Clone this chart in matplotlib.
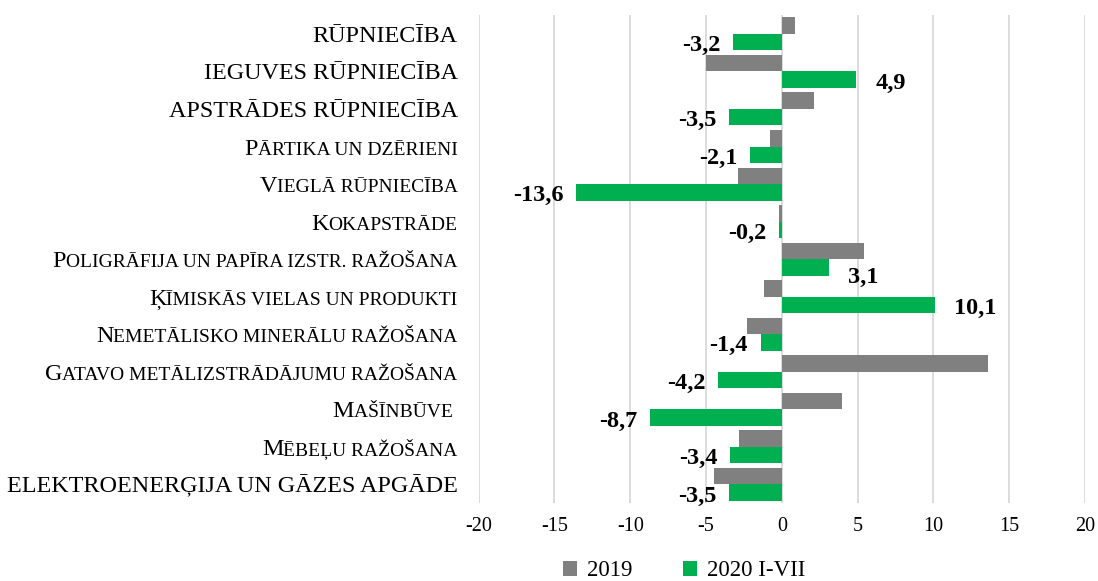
import numpy as np
import matplotlib
matplotlib.use('Agg')
import matplotlib.pyplot as plt

categories = ['RŪPNIECĪBA', 'IEGUVES RŪPNIECĪBA', 'APSTRĀDES RŪPNIECĪBA',
              'Pārtika un dzērieni', 'Vieglā rūpniecība', 'Kokapstrāde',
              'Poligrāfija un papīra izstr. ražošana', 'Ķīmiskās vielas un produkti',
              'Nemetālisko minerālu ražošana', 'Gatavo metālizstrādājumu ražošana',
              'Mašīnbūve ', 'Mēbeļu ražošana', 'ELEKTROENERĢIJA UN GĀZES APGĀDE']
vals_2019 = [0.9, -5.0, 2.1, -0.8, -2.9, -0.2, 5.4, -1.2, -2.3, 13.6, 4.0, -2.8, -4.5]
vals_2020 = [-3.2, 4.9, -3.5, -2.1, -13.6, -0.2, 3.1, 10.1, -1.4, -4.2, -8.7, -3.4, -3.5]
xticks = [-20, -15, -10, -5, 0, 5, 10, 15, 20]

plt.rcParams['font.family'] = ['Liberation Serif', 'DejaVu Serif']

W, H = 1098, 581
fig = plt.figure(figsize=(W / 100, H / 100), dpi=100)
ax = fig.add_axes([0.436, 0.134, 0.552, 0.840])

y = np.arange(len(categories))
h = 0.44
ax.barh(y - h / 2, vals_2019, height=h, color='#808080', label='2019', zorder=3)
ax.barh(y + h / 2, vals_2020, height=h, color='#00b050', label='2020 I-VII', zorder=3)

# data labels (2020), Excel nudged the 3,1 label down a bit
for i, (yi, v) in enumerate(zip(y, vals_2020)):
    lbl = f'{v:.1f}'.replace('.', ',')
    dy = -7 if i == 6 else -2.5
    ax.annotate(lbl, (v, yi + h / 2), xytext=(14 if v > 0 else -9, dy),
                textcoords='offset points', ha='left' if v > 0 else 'right',
                va='center', fontsize=17.5, fontweight='bold')

ax.set_xlim(-20, 20)
ax.set_ylim(len(categories) - 0.5, -0.5)
ax.set_xticks(xticks)
ax.set_xticklabels([str(t) for t in xticks], fontsize=14.5)
ax.set_yticks([])
ax.tick_params(axis='x', length=0, pad=10)
ax.grid(axis='x', color='#d9d9d9', linewidth=1.3, zorder=0)
for s in ax.spines.values():
    s.set_visible(False)

fig.legend(loc='center', bbox_to_anchor=(684 / W, 1 - 571 / H), ncol=2, frameon=False,
           fontsize=16.5, handlelength=0.6, handleheight=0.6, columnspacing=2.2,
           handletextpad=0.45)

# category labels in small caps
renderer = fig.canvas.get_renderer()
big, small = 17.4, 14
x_right = ax.transAxes.transform((0, 0))[0] - 21
for i, lab in enumerate(categories):
    runs = []
    for ch in lab:
        if ch.isalpha():
            sz = big if ch.isupper() else small
        else:
            sz = runs[-1][1] if runs else big
        if runs and runs[-1][1] == sz:
            runs[-1][0] += ch.upper()
        else:
            runs.append([ch.upper(), sz])
    y_px = ax.transData.transform((0, i))[1] - 8
    cur = x_right
    for txt, sz in reversed(runs):
        t = fig.text(cur / W, y_px / H, txt, ha='right', va='baseline', fontsize=sz)
        cur -= t.get_window_extent(renderer).width

fig.savefig('out.png', dpi=100)
